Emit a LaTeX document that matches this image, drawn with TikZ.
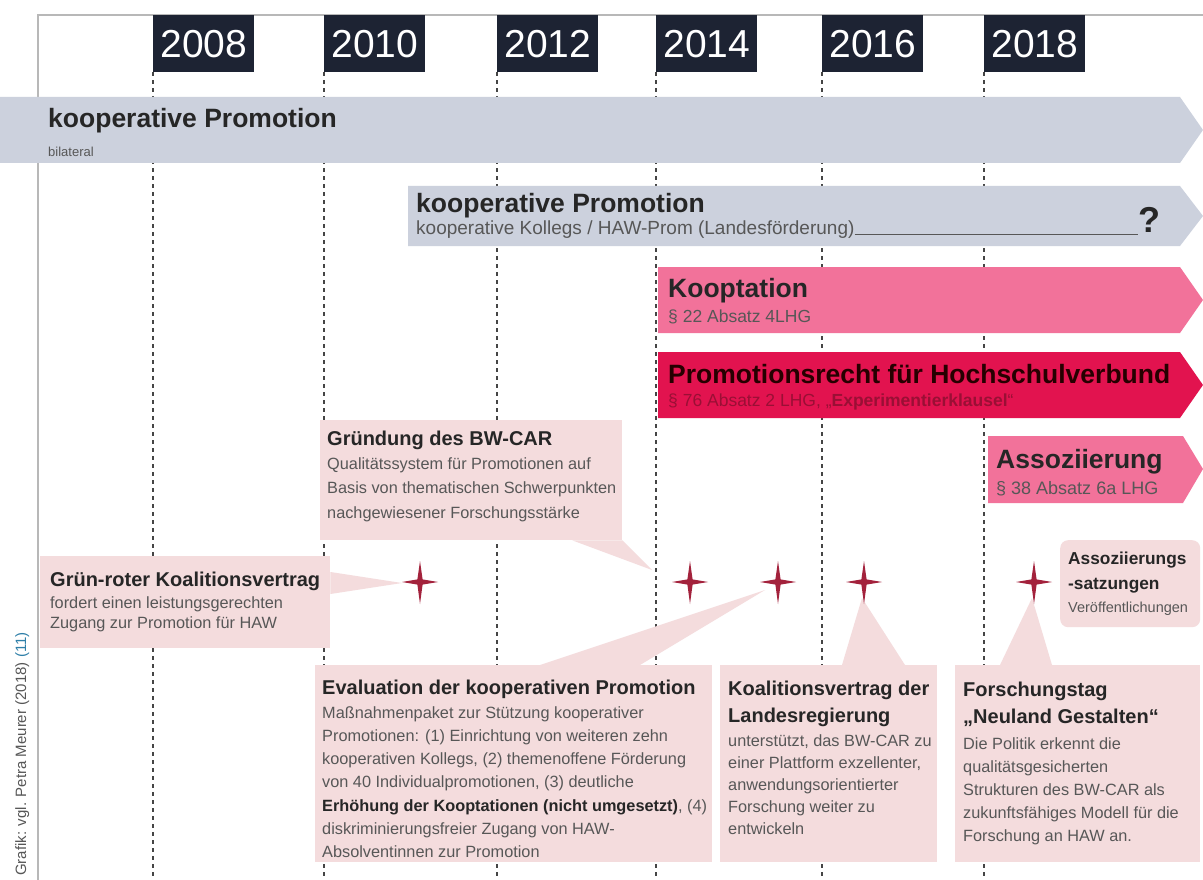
\documentclass[tikz,border=0pt]{standalone}
\usepackage{fontspec}
\setmainfont{Liberation Sans}
\usepackage{xcolor}
\definecolor{yearbg}{HTML}{1D2333}
\definecolor{slate}{HTML}{CCD1DD}
\definecolor{rosa}{HTML}{F2729A}
\definecolor{crimson}{HTML}{E2134F}
\definecolor{callbg}{HTML}{F4DCDD}
\definecolor{sparkred}{HTML}{A3223C}
\definecolor{ink}{HTML}{262626}
\definecolor{ink2}{HTML}{575757}
\definecolor{gridline}{HTML}{454545}
\definecolor{frame}{HTML}{B8B8B8}
\definecolor{refblue}{HTML}{2E7FA8}
\definecolor{darkred}{HTML}{9A0F35}
\usepackage{tikz}
\usetikzlibrary{positioning}
\newcommand{\fsz}[2]{\fontsize{#1}{#2}\selectfont}
\tikzset{sparkle/.pic={\fill[sparkred] (0,-21) -- (2.6,-2.6) -- (18,0) -- (2.6,2.6) -- (0,22)
  -- (-2.6,2.6) -- (-18,0) -- (-2.6,-2.6) -- cycle;}}

\begin{document}
\begin{tikzpicture}[x=1pt,y=-1pt,
  yearbox/.style={fill=yearbg,text=white,font=\fsz{39}{44},minimum width=101pt,
    minimum height=57pt,inner sep=0pt,anchor=north west},
  grid/.style={gridline,line width=1.2pt,dash pattern=on 4pt off 4pt},
  ttl/.style={font=\bfseries\fsz{26.5}{30},text=ink,inner sep=0pt,anchor=base west},
  sub/.style={font=\fsz{17.5}{21},text=ink2,inner sep=0pt,anchor=base west},
  cbox/.style={fill=callbg,inner sep=0pt,anchor=north west},
  ctl/.style={font=\bfseries\fsz{20}{27},text=ink,inner sep=0pt,anchor=north west,align=left},
  cbd/.style={font=\fsz{16.3}{23},text=ink2,inner sep=0pt,anchor=north west,align=left}]
\useasboundingbox (0,0) rectangle (1203,880);
\fill[white] (0,0) rectangle (1203,880);
\draw[frame,line width=1.5pt] (38,880) -- (38,15) -- (1203,15);

\foreach \yr/\xx in {2008/153,2010/324,2012/497,2014/656,2016/822,2018/984}{
  \node[yearbox] (y\yr) at (\xx,15) {\yr};
  \coordinate (g\yr) at (\xx,880);
  \draw[grid] (y\yr.south west) -- (g\yr);
}

\fill[slate] (0,97) -- (1180,97) -- (1203,130) -- (1180,163) -- (0,163) -- cycle;
\fill[slate] (408,186) -- (1180,186) -- (1203,216) -- (1180,246) -- (408,246) -- cycle;
\fill[rosa] (658,267) -- (1180,267) -- (1203,300) -- (1180,333) -- (658,333) -- cycle;
\fill[crimson] (658,352) -- (1180,352) -- (1203,385) -- (1180,418) -- (658,418) -- cycle;
\fill[rosa] (988,436) -- (1183,436) -- (1203,469) -- (1183,503) -- (988,503) -- cycle;

\node[ttl] (kp1) at (48,128) {kooperative Promotion};
\node[sub,font=\fsz{13}{16}] (kp1s) at (48,157) {bilateral};
\node[ttl] (kp2) at (416,212) {kooperative Promotion};
\node[sub,font=\fsz{19}{22}] (kp2s) at (416,234) {kooperative Kollegs / HAW-Prom (Landesförderung)};
\node[ttl,font=\bfseries\fsz{36}{40}] (kp2q) at (1138,233) {?};
\draw[ink2,line width=1pt] (kp2s.base east) -- (kp2s.base east -| kp2q.west);
\node[ttl] (koop) at (668,297) {Kooptation};
\node[sub] (koops) at (668,322) {§ 22 Absatz 4LHG};
\node[ttl,text=black!85!red] (prom) at (668,383) {Promotionsrecht für Hochschulverbund};
\node[sub,text=darkred] (proms) at (668,406) {§ 76 Absatz 2 LHG, „\textbf{Experimentierklausel}“};
\node[ttl] (asso) at (996,468) {Assoziierung};
\node[sub,font=\fsz{18}{21}] (assos) at (996,494) {§ 38 Absatz 6a LHG};

\node[cbox,minimum width=302pt,minimum height=120pt] (gruendbox) at (320,420) {};
\node[cbox,minimum width=290pt,minimum height=92pt] (koalbox) at (40,556) {};
\node[cbox,minimum width=397pt,minimum height=197pt] (evalbox) at (315,665) {};
\node[cbox,minimum width=217pt,minimum height=197pt] (landbox) at (720,665) {};
\node[cbox,minimum width=245pt,minimum height=197pt] (forschbox) at (955,665) {};
\node[cbox,rounded corners=8pt,minimum width=140pt,minimum height=87pt] (satzbox) at (1060,540) {};

\coordinate (koaltip) at (402,583);
\coordinate (gruendtip) at (652,570);
\coordinate (evaltip) at (765,590);
\coordinate (landtip) at (862,598);
\coordinate (forschtip) at (1032,598);
\fill[callbg] (koalbox.north east) ++(0,16) -- ++(0,22) -- (koaltip) -- cycle;
\fill[callbg] (gruendbox.south east) ++(-50,0) -- ++(50,0) -- (gruendtip) -- cycle;
\fill[callbg] (evalbox.north west) ++(225,0) -- ++(100,0) -- (evaltip) -- cycle;
\fill[callbg] (landbox.north west) ++(122,0) -- ++(63,0) -- (landtip) -- cycle;
\fill[callbg] (forschbox.north west) ++(45,0) -- ++(52,0) -- (forschtip) -- cycle;

\foreach \xx [count=\i] in {420,690,778,864,1034}{
  \coordinate (st\i) at (\xx,582);
  \pic at (st\i) {sparkle};
}

\node[ctl,anchor=base west] (gruendt) at (327,445) {Gründung des BW-CAR};
\node[cbd,font=\fsz{16.3}{24.5}] (gruendb) at (327,451.9) {\strut Qualitätssystem für Promotionen auf\\
  Basis von thematischen Schwerpunkten\\nachgewiesener Forschungsstärke};
\node[ctl,anchor=base west] (koalt) at (50,586) {Grün-roter Koalitionsvertrag};
\node[cbd,font=\fsz{16.3}{20}] (koalb) at (50,594) {\strut fordert einen leistungsgerechten\\
  Zugang zur Promotion für HAW};
\node[ctl,anchor=base west] (evalt) at (322,694) {Evaluation der kooperativen Promotion};
\node[cbd,font=\fsz{16.3}{23.2}] (evalb) at (322,701.8) {\strut Maßnahmenpaket zur Stützung kooperativer\\
  Promotionen: (1) Einrichtung von weiteren zehn\\
  kooperativen Kollegs, (2) themenoffene Förderung\\
  von 40 Individualpromotionen, (3) deutliche\\
  {\bfseries\color{ink}Erhöhung der Kooptationen (nicht umgesetzt)}, (4)\\
  diskriminierungsfreier Zugang von HAW-\\
  Absolventinnen zur Promotion};
\node[ctl] (landt) at (728,676) {\strut Koalitionsvertrag der\\Landesregierung};
\node[cbd,font=\fsz{16.3}{22}] (landb) at (728,730.6) {\strut unterstützt, das BW-CAR zu\\
  einer Plattform exzellenter,\\anwendungsorientierter\\Forschung weiter zu\\entwickeln};
\node[ctl] (forscht) at (963,677) {\strut Forschungstag\\„Neuland Gestalten“};
\node[cbd,font=\fsz{16.3}{23}] (forschb) at (963,733) {\strut Die Politik erkennt die\\
  qualitätsgesicherten\\Strukturen des BW-CAR als\\zukunftsfähiges Modell für die\\
  Forschung an HAW an.};
\node[ctl,font=\bfseries\fsz{17.3}{25}] (satzt) at (1068,546.5) {\strut Assoziierungs\\-satzungen};
\node[cbd,font=\fsz{14.5}{17},anchor=base west] (satzb) at (1068,612) {Veröffentlichungen};

\node[rotate=90,anchor=base west,inner sep=0pt,font=\fsz{15}{18},text=ink2] (credit) at (26,876)
  {Grafik: vgl. Petra Meurer (2018) \textcolor{refblue}{(11)}};
\end{tikzpicture}
\end{document}
